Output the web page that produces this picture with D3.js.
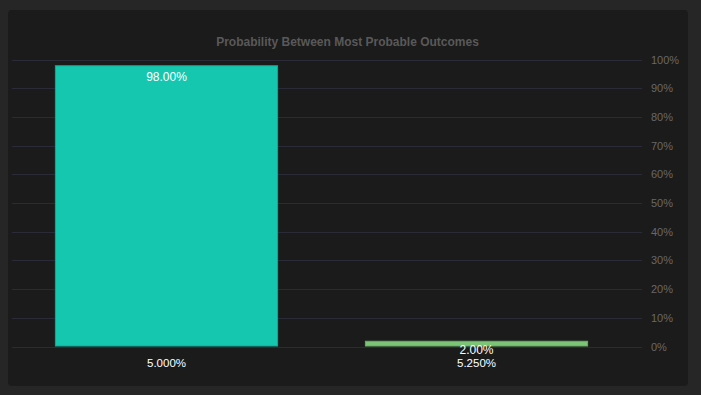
<!DOCTYPE html>
<html><head><meta charset="utf-8">
<script src="https://cdn.jsdelivr.net/npm/d3@7"></script>
<style>
html,body{margin:0;padding:0;background:#262626;}
svg{display:block;}
</style></head>
<body>
<svg id="c" width="701" height="395"></svg>
<script>
const categories = ["5.000%", "5.250%"];
const values = [98.0, 2.0];
const valueLabels = ["98.00%", "2.00%"];
const yTicks = [0,10,20,30,40,50,60,70,80,90,100];
const colors = ["#16c7b0", "#7cc576"];
const strokes = ["#13a895", "#6aab65"];

const svg = d3.select("#c");
svg.append("rect").attr("x",8).attr("y",10).attr("width",680).attr("height",376)
  .attr("rx",4).attr("fill","#1b1b1b");

const y = d3.scaleLinear().domain([0,100]).range([346.5,59.5]);
const x = d3.scaleBand().domain(categories).range([11.5,631.5]).paddingInner(0.28).paddingOuter(0.14);

svg.append("text").attr("x",347.5).attr("y",46).attr("text-anchor","middle")
  .attr("font-family","Liberation Sans, Arial, sans-serif").attr("font-weight","bold")
  .attr("font-size",12).attr("fill","#595959").text("Probability Between Most Probable Outcomes");

const yAxis = d3.axisRight(y).tickValues(yTicks).tickSize(0).tickPadding(0).tickFormat(d=>d+"%");
const ga = svg.append("g").attr("transform","translate(651,0)").call(yAxis);
ga.select(".domain").remove();
ga.selectAll("text").attr("font-family","Liberation Sans, Arial, sans-serif").attr("font-size",11).attr("fill","#686868");

svg.append("g").selectAll("line").data(yTicks).join("line")
  .attr("x1",12).attr("x2",642).attr("y1",d=>Math.round(y(d))+0.5).attr("y2",d=>Math.round(y(d))+0.5)
  .attr("stroke","#2a2a38").attr("stroke-width",1);

svg.append("g").selectAll("rect").data(values).join("rect")
  .attr("x",(d,i)=>x(categories[i])+0.5).attr("width",x.bandwidth()-1)
  .attr("y",d=>y(d)+0.5).attr("height",d=>y(0)-y(d)-1)
  .attr("fill",(d,i)=>colors[i]).attr("stroke",(d,i)=>strokes[i]).attr("stroke-width",1);

svg.append("g").selectAll("text").data(values).join("text")
  .attr("x",(d,i)=>x(categories[i])+x.bandwidth()/2)
  .attr("y",d=>d>50 ? y(d)+16 : y(d)+13.5)
  .attr("text-anchor","middle").attr("font-family","Liberation Sans, Arial, sans-serif")
  .attr("font-size",12).attr("fill","#ffffff").text((d,i)=>valueLabels[i]);

const xAxis = d3.axisBottom(x).tickSize(0).tickPadding(0);
const gx = svg.append("g").attr("transform","translate(0,359)").call(xAxis);
gx.select(".domain").remove();
gx.selectAll("text").attr("font-family","Liberation Sans, Arial, sans-serif").attr("font-size",11.5).attr("fill","#ffffff");
</script>
</body></html>
